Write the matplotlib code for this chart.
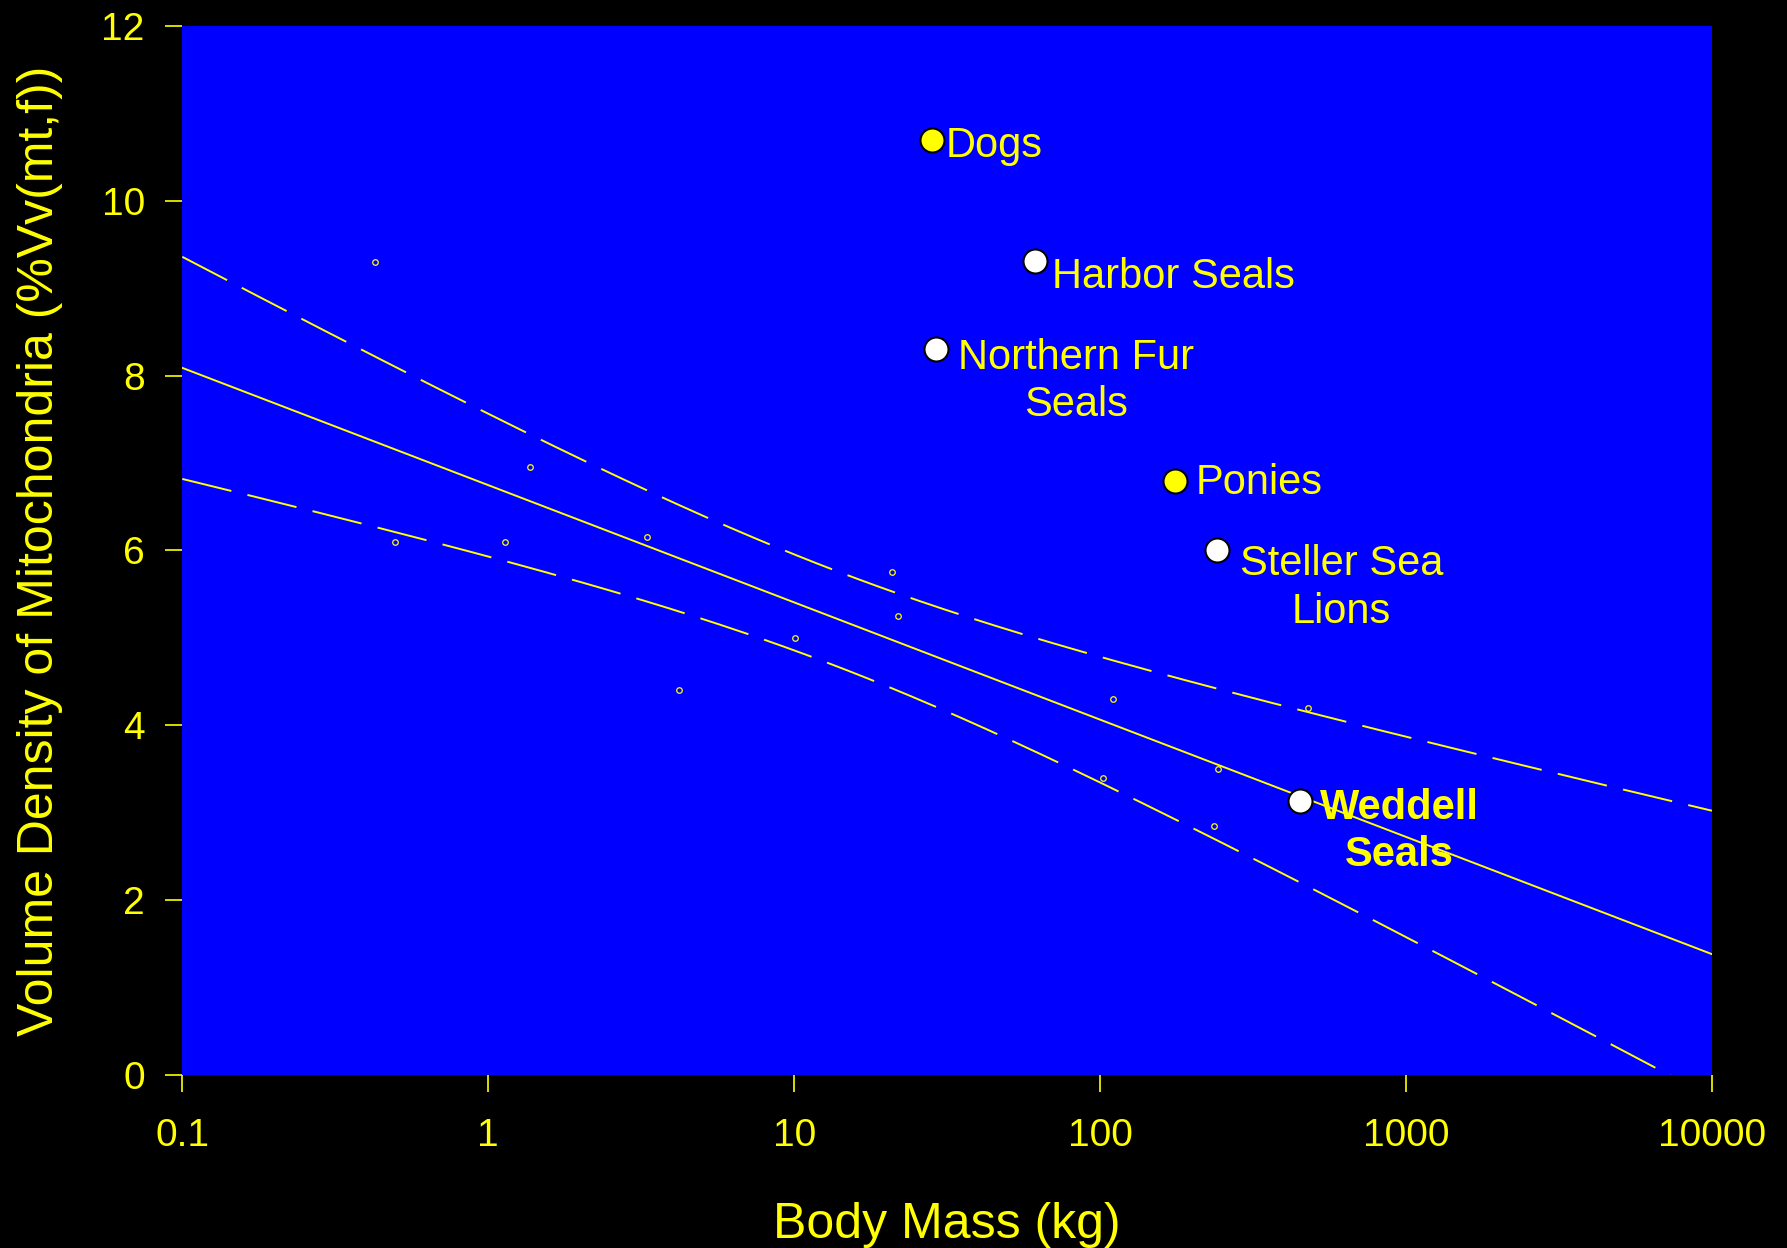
import numpy as np
import matplotlib.pyplot as plt

plt.rcParams['font.family'] = ['Liberation Sans', 'DejaVu Sans']

# small yellow circles: the species used for the regression
body_mass = [0.428, 0.497, 1.133, 1.374, 3.30, 4.19, 10.07, 20.9, 21.8,
             109.9, 102.0, 243.0, 235.0, 477.0]
vv_mito = [9.30, 6.10, 6.10, 6.95, 6.15, 4.40, 5.00, 5.75, 5.25,
           4.30, 3.40, 3.50, 2.85, 4.20]

# highlighted animals
animals = ['Dogs', 'Harbor Seals', 'Northern Fur\nSeals', 'Ponies',
           'Steller Sea\nLions', 'Weddell\nSeals']
animal_mass = [28.2, 61.3, 29.1, 176.0, 241.7, 451.0]
animal_vv = [10.70, 9.31, 8.30, 6.80, 6.00, 3.13]

xtick_vals = [0.1, 1, 10, 100, 1000, 10000]
xtick_labels = ['0.1', '1', '10', '100', '1000', '10000']
ytick_vals = [0, 2, 4, 6, 8, 10, 12]

YEL = '#ffff00'
BLUE = '#0000ff'

face = [YEL, 'white', 'white', YEL, 'white', 'white']
offsets = [(10, -4.5), (12, -11.5), (16, -23), (15, -1.5), (16, -27), (14, -22)]
weights = ['normal'] * 5 + ['bold']

# least squares fit on log10(mass) with confidence band
u = np.log10(body_mass)
v = np.array(vv_mito)
n = len(u)
slope, icpt = np.polyfit(u, v, 1)
resid = v - (icpt + slope * u)
s = np.sqrt(np.sum(resid ** 2) / (n - 2))
sxx = np.sum((u - u.mean()) ** 2)
tcrit = 2.12

xs = np.logspace(-1, 4, 300)
ux = np.log10(xs)
fit = icpt + slope * ux
half = tcrit * s * np.sqrt(1.0 / n + (ux - u.mean()) ** 2 / sxx)

fig = plt.figure(figsize=(17.87, 12.48), dpi=100, facecolor='black')
ax = fig.add_axes([0.102, 0.1389, 0.856, 0.8401])
ax.set_facecolor(BLUE)

ax.plot(xs, fit, color=YEL, lw=1.4, zorder=2)
ax.plot(xs, fit + half, color=YEL, lw=1.4, ls=(0, (26, 8.5)), zorder=2)
ax.plot(xs, fit - half, color=YEL, lw=1.4, ls=(0, (26, 8.5)), zorder=2)

ax.plot(body_mass, vv_mito, 'o', ms=4, mfc='none', mec=YEL, mew=0.9, zorder=3)

for i in range(len(animals)):
    ax.plot(animal_mass[i], animal_vv[i], 'o', ms=17.3, mfc=face[i],
            mec='black', mew=1.5, zorder=4)
    ax.annotate(animals[i], (animal_mass[i], animal_vv[i]),
                xytext=offsets[i], textcoords='offset points',
                ha='left', va='center', multialignment='center',
                color=YEL, fontsize=30, fontweight=weights[i],
                linespacing=1.24, zorder=5)

ax.set_xscale('log')
ax.set_xlim(0.1, 10000)
ax.set_ylim(0, 12)
ax.set_xticks(xtick_vals)
ax.set_xticklabels(xtick_labels)
ax.minorticks_off()
ax.set_yticks(ytick_vals)

for sp in ax.spines.values():
    sp.set_visible(False)

ax.tick_params(axis='both', colors=YEL, labelsize=28, length=12, width=1.2,
               direction='out')
ax.tick_params(axis='x', pad=19)
ax.tick_params(axis='y', pad=15)

ax.set_xlabel('Body Mass (kg)', color=YEL, fontsize=36, labelpad=35)
ax.set_ylabel('Volume Density of Mitochondria (%Vv(mt,f))', color=YEL,
              fontsize=36, labelpad=28)

fig.savefig('out.png', dpi=100, facecolor='black')
